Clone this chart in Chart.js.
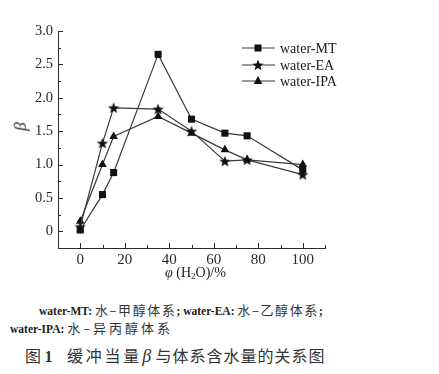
<!DOCTYPE html>
<html>
<head>
<meta charset="utf-8">
<script src="https://cdn.jsdelivr.net/npm/chart.js@4/dist/chart.umd.min.js"></script>
<style>
  html, body { margin: 0; padding: 0; background: #fff; }
  #wrap { position: relative; width: 439px; height: 374px; overflow: hidden; font-family: "Liberation Serif", "Times New Roman", serif; }
  #chartBox { position: absolute; left: 0; top: 0; width: 439px; height: 290px; }
  .lbl { position: absolute; color: #222; white-space: nowrap; line-height: 1; }
  #ytitle { left: 16px; top: 118px; font-size: 17px; font-style: italic; transform: rotate(-90deg); transform-origin: center; }
  #xtitle { left: 165px; top: 266px; font-size: 14px; }
  #xtitle sub { font-size: 9px; vertical-align: -2px; }
  .cap { font-family: "Noto Sans CJK SC", serif; color: #333; }
  .lat { font-family: "Liberation Serif", serif; font-weight: bold; font-size: 11.5px; letter-spacing: 0; color: #222; }
  #cap1 { left: 39px; top: 303px; font-size: 13px; }
  #cap1 .cj { letter-spacing: 1.6px; }
  #cap2 { left: 10px; top: 321px; font-size: 13px; }
  #cap2 .cj { letter-spacing: 3px; }
  #cap3 { left: 25px; top: 347px; font-size: 16px; }
  #cap3 .n { font-family: "Liberation Serif", serif; font-weight: bold; }
  #cap3 .a { letter-spacing: 2.8px; }
  #cap3 .b { letter-spacing: 1px; }
  #cap3 .beta { font-family: "Liberation Serif", serif; font-style: italic; font-size: 18px; }
</style>
</head>
<body>
<div id="wrap">
  <div id="chartBox"><canvas id="c" width="439" height="290"></canvas></div>
  <div class="lbl" id="ytitle">β</div>
  <div class="lbl" id="xtitle"><i>φ</i> (H<sub>2</sub>O)/%</div>
  <div class="lbl cap" id="cap1"><span class="lat">water-MT: </span><span class="cj">水–甲醇体系</span><span class="lat">; water-EA: </span><span class="cj">水–乙醇体系</span><span class="lat">;</span></div>
  <div class="lbl cap" id="cap2"><span class="lat">water-IPA: </span><span class="cj">水–异丙醇体系</span></div>
  <div class="lbl cap" id="cap3">图 <span class="n">1</span>&nbsp;&nbsp;&nbsp;&nbsp;<span class="a">缓冲当量</span><span class="beta">β </span><span class="b">与体系含水量的关系图</span></div>
</div>
<script>
// ---- data ----
const waterContent = [0, 10, 15, 35, 50, 65, 75, 100];
const seriesNames = ["water-MT", "water-EA", "water-IPA"];
const betaMT  = [0.02, 0.55, 0.88, 2.65, 1.68, 1.47, 1.43, 0.92];
const betaEA  = [0.07, 1.32, 1.85, 1.83, 1.50, 1.05, 1.07, 0.85];
const betaIPA = [0.15, 1.00, 1.42, 1.72, 1.47, 1.22, 1.07, 1.00];
const xTicks = [0, 20, 40, 60, 80, 100];
const xMinorTicks = [-10, 10, 30, 50, 70, 90, 110];
const yTicks = [0, 0.5, 1.0, 1.5, 2.0, 2.5, 3.0];
const yMinorTicks = [-0.25, 0.25, 0.75, 1.25, 1.75, 2.25, 2.75];

const INK = "#2a2a2a";
const LINE = "#3a3a3a";

// filled five-point star marker
function makeStar(r) {
  const s = Math.ceil(r * 2 + 2);
  const cv = document.createElement("canvas");
  cv.width = s; cv.height = s;
  const g = cv.getContext("2d");
  const cx = s / 2, cy = s / 2 + 0.5;
  g.beginPath();
  for (let i = 0; i < 10; i++) {
    const rad = i % 2 === 0 ? r : r * 0.42;
    const a = -Math.PI / 2 + i * Math.PI / 5;
    const px = cx + rad * Math.cos(a), py = cy + rad * Math.sin(a);
    if (i === 0) g.moveTo(px, py); else g.lineTo(px, py);
  }
  g.closePath();
  g.fillStyle = "#111";
  g.fill();
  return cv;
}
const starImg = makeStar(6);

function pts(arr) { return waterContent.map((x, i) => ({ x: x, y: arr[i] })); }

const common = {
  borderColor: LINE,
  borderWidth: 1.2,
  pointBackgroundColor: "#111",
  pointBorderColor: "#111",
  pointBorderWidth: 0,
  tension: 0,
  fill: false
};

const datasets = [
  Object.assign({}, common, { label: seriesNames[0], data: pts(betaMT), pointStyle: "rect", pointRadius: 5 }),
  Object.assign({}, common, { label: seriesNames[1], data: pts(betaEA), pointStyle: starImg, pointRadius: 6 }),
  Object.assign({}, common, { label: seriesNames[2], data: pts(betaIPA), pointStyle: "triangle", pointRadius: 5 })
];

// inward ticks + custom legend
const decor = {
  id: "decor",
  afterDraw(chart) {
    const ctx = chart.ctx;
    const xs = chart.scales.x, ys = chart.scales.y;
    const ca = chart.chartArea;
    ctx.save();
    ctx.strokeStyle = INK;
    ctx.lineWidth = 1;
    ctx.beginPath();
    xTicks.forEach(v => { const p = Math.round(xs.getPixelForValue(v)) + 0.5; ctx.moveTo(p, ca.bottom); ctx.lineTo(p, ca.bottom - 5); });
    xMinorTicks.forEach(v => { const p = Math.round(xs.getPixelForValue(v)) + 0.5; ctx.moveTo(p, ca.bottom); ctx.lineTo(p, ca.bottom - 3); });
    yTicks.forEach(v => { const p = Math.round(ys.getPixelForValue(v)) + 0.5; ctx.moveTo(ca.left, p); ctx.lineTo(ca.left + 5, p); });
    yMinorTicks.forEach(v => { const p = Math.round(ys.getPixelForValue(v)) + 0.5; ctx.moveTo(ca.left, p); ctx.lineTo(ca.left + 3, p); });
    ctx.stroke();

    // legend
    const lx0 = 242, lx1 = 275, mx = 258, tx = 280;
    const rows = [48, 65, 81];
    ctx.font = "14px 'Liberation Serif', serif";
    ctx.textBaseline = "middle";
    rows.forEach((y, i) => {
      ctx.strokeStyle = LINE;
      ctx.lineWidth = 1.2;
      ctx.beginPath(); ctx.moveTo(lx0, y); ctx.lineTo(lx1, y); ctx.stroke();
      ctx.fillStyle = "#111";
      if (i === 0) {
        ctx.fillRect(mx - 3.5, y - 3.5, 7, 7);
      } else if (i === 1) {
        ctx.drawImage(starImg, mx - starImg.width / 2, y - starImg.height / 2);
      } else {
        ctx.beginPath();
        ctx.moveTo(mx, y - 5); ctx.lineTo(mx + 4.3, y + 3); ctx.lineTo(mx - 4.3, y + 3); ctx.closePath(); ctx.fill();
      }
      ctx.fillStyle = "#1a1a1a";
      ctx.fillText(seriesNames[i], tx, y + 1);
    });
    ctx.restore();
  }
};

new Chart(document.getElementById("c"), {
  type: "line",
  data: { datasets: datasets },
  options: {
    responsive: false,
    animation: false,
    events: [],
    layout: { padding: { left: 0, top: 31, right: 114, bottom: 0 } },
    plugins: { legend: { display: false }, tooltip: { enabled: false } },
    scales: {
      x: {
        type: "linear",
        min: -10, max: 110,
        afterFit: s => { s.height = 42; },
        afterBuildTicks: s => { s.ticks = xTicks.map(v => ({ value: v })); },
        grid: { display: true, drawOnChartArea: false, drawTicks: false },
        border: { display: true, color: INK, width: 1 },
        ticks: { color: INK, padding: 3, font: { family: "'Liberation Serif', serif", size: 15 }, maxRotation: 0,
                 callback: v => String(v) }
      },
      y: {
        type: "linear",
        min: -0.25, max: 3.0,
        afterFit: s => { s.width = 58; },
        afterBuildTicks: s => { s.ticks = yTicks.map(v => ({ value: v })); },
        grid: { display: true, drawOnChartArea: false, drawTicks: false },
        border: { display: true, color: INK, width: 1 },
        ticks: { color: INK, padding: 5, font: { family: "'Liberation Serif', serif", size: 14.5 },
                 callback: v => (v === 0 ? "0" : Number(v).toFixed(1)) }
      }
    }
  },
  plugins: [decor]
});
</script>
</body>
</html>
